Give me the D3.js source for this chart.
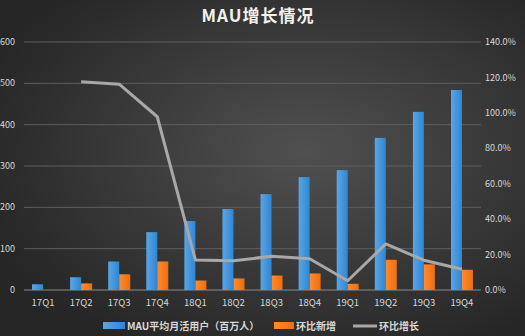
<!DOCTYPE html>
<meta charset="utf-8">
<head>
  <script src="https://d3js.org/d3.v7.min.js"></script>
  <style>
    body { margin: 0; background: #333; }
    text { font-family: "Noto Sans CJK SC", "DejaVu Sans", sans-serif; }
  </style>
</head>
<body>
<svg id="chart"></svg>
<script>
  // data
  var quarters = ["17Q1","17Q2","17Q3","17Q4","18Q1","18Q2","18Q3","18Q4","19Q1","19Q2","19Q3","19Q4"];
  var mau      = [14, 31, 69, 140, 167, 196, 232, 273, 290, 368, 431, 484];
  var qoqAdd   = [null, 16, 38, 69, 23, 28, 35, 40, 15, 73, 62, 49];
  var qoqRate  = [null, 117.6, 116.2, 97.8, 17.0, 16.5, 19.0, 17.6, 5.2, 26.0, 16.8, 11.7];
  var leftTicks  = [0, 100, 200, 300, 400, 500, 600];
  var rightTicks = [0, 20, 40, 60, 80, 100, 120, 140];

  var W = 525, H = 336;
  var svg = d3.select("#chart").attr("width", W).attr("height", H);

  // background
  var defs = svg.append("defs");
  var bg = defs.append("radialGradient").attr("id", "bg")
      .attr("cx", "58%").attr("cy", "45%").attr("r", "65%");
  bg.append("stop").attr("offset", "0%").attr("stop-color", "#505050");
  bg.append("stop").attr("offset", "100%").attr("stop-color", "#262626");
  svg.append("rect").attr("width", W).attr("height", H).attr("fill", "url(#bg)");

  var blueGrad = defs.append("linearGradient").attr("id", "blue")
      .attr("x1", 0).attr("x2", 1).attr("y1", 0).attr("y2", 0);
  blueGrad.append("stop").attr("offset", "0%").attr("stop-color", "#5aa5e6");
  blueGrad.append("stop").attr("offset", "100%").attr("stop-color", "#2f86d3");
  var orangeGrad = defs.append("linearGradient").attr("id", "orange")
      .attr("x1", 0).attr("x2", 1).attr("y1", 0).attr("y2", 0);
  orangeGrad.append("stop").attr("offset", "0%").attr("stop-color", "#ff8a2e");
  orangeGrad.append("stop").attr("offset", "100%").attr("stop-color", "#ec6e12");

  var plotL = 24, plotR = 481, plotT = 42, plotB = 290;

  var x = d3.scaleBand().domain(quarters).range([plotL, plotR]);
  var yL = d3.scaleLinear().domain([0, 600]).range([plotB, plotT]);
  var yR = d3.scaleLinear().domain([0, 140]).range([plotB, plotT]);
  var cx = function(i) { return x(quarters[i]) + x.bandwidth() / 2; };

  // gridlines
  svg.append("g").selectAll("line").data(leftTicks).enter().append("line")
    .attr("x1", plotL).attr("x2", plotR)
    .attr("y1", d => yL(d)).attr("y2", d => yL(d))
    .attr("stroke", d => d == 0 ? "#8a8a8a" : "#5e5e5e").attr("stroke-width", 1);

  // left axis labels
  svg.append("g").selectAll("text").data(leftTicks).enter().append("text")
    .attr("x", 15).attr("y", d => yL(d)).attr("dy", "0.35em")
    .attr("text-anchor", "end").attr("font-size", 9).attr("fill", "#d8d8d8")
    .text(d => d);

  // right axis labels
  svg.append("g").selectAll("text").data(rightTicks).enter().append("text")
    .attr("x", 485).attr("y", d => yR(d)).attr("dy", "0.35em")
    .attr("font-size", 9).attr("fill", "#d8d8d8")
    .text(d => d.toFixed(1) + "%");

  // category labels
  svg.append("g").selectAll("text").data(quarters).enter().append("text")
    .attr("x", (d, i) => cx(i)).attr("y", 303).attr("dy", "0.35em")
    .attr("text-anchor", "middle").attr("font-size", 9.5).attr("fill", "#d8d8d8")
    .text(d => d);

  var barW = 11;
  // MAU bars
  svg.append("g").selectAll("rect").data(mau).enter().append("rect")
    .attr("x", (d, i) => cx(i) - barW)
    .attr("y", d => yL(d)).attr("width", barW)
    .attr("height", d => yL(0) - yL(d)).attr("fill", "url(#blue)");

  // qoq additions
  svg.append("g").selectAll("rect").data(qoqAdd).enter().append("rect")
    .filter(d => d != null)
    .attr("x", (d, i) => cx(qoqAdd.indexOf(d)))
    .attr("y", d => yL(d)).attr("width", barW)
    .attr("height", d => yL(0) - yL(d)).attr("fill", "url(#orange)");

  // growth line
  var line = d3.line()
    .defined(d => d != null)
    .x((d, i) => cx(i))
    .y(d => yR(d));
  svg.append("path").datum(qoqRate)
    .attr("d", line).attr("fill", "none")
    .attr("stroke", "#a8a8a8").attr("stroke-width", 3).attr("stroke-linejoin", "round");

  // title
  svg.append("text").attr("x", 258).attr("y", 16).attr("dy", "0.35em")
    .attr("text-anchor", "middle").attr("font-size", 17).attr("font-weight", "bold")
    .attr("letter-spacing", 1)
    .attr("fill", "#f2f2f2").text("MAU增长情况");

  // legend
  var lg = svg.append("g").attr("font-size", 10).attr("fill", "#d8d8d8");
  lg.append("rect").attr("x", 103).attr("y", 322).attr("width", 22).attr("height", 7).attr("fill", "url(#blue)");
  lg.append("text").attr("x", 127).attr("y", 326).attr("dy", "0.35em").attr("font-weight", "bold")
    .text("MAU平均月活用户（百万人）");
  lg.append("rect").attr("x", 274).attr("y", 322).attr("width", 20).attr("height", 7).attr("fill", "url(#orange)");
  lg.append("text").attr("x", 296).attr("y", 326).attr("dy", "0.35em").attr("font-weight", "bold").text("环比新增");
  lg.append("line").attr("x1", 353).attr("x2", 377).attr("y1", 326).attr("y2", 326)
    .attr("stroke", "#a8a8a8").attr("stroke-width", 3);
  lg.append("text").attr("x", 379).attr("y", 326).attr("dy", "0.35em").attr("font-weight", "bold").text("环比增长");
</script>
</body>
